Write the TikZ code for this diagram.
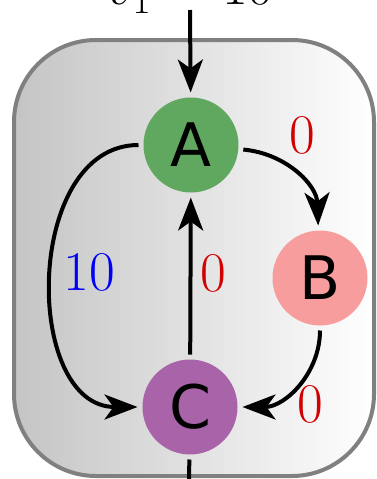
\RequirePackage{fix-cm}
\documentclass[tikz,border=0pt]{standalone}
\usepackage{fontspec}
\newfontfamily\letterfont{DejaVu Sans}
\usetikzlibrary{arrows.meta}
\definecolor{nodeA}{RGB}{96,168,96}
\definecolor{nodeB}{RGB}{248,157,157}
\definecolor{nodeC}{RGB}{169,100,169}
\definecolor{wred}{RGB}{210,0,0}
\definecolor{wblue}{RGB}{0,0,245}
\definecolor{boxedge}{RGB}{128,128,128}
\tikzset{
  vertex/.style={circle, minimum size=95pt, inner sep=0pt, outer sep=5pt,
    font=\letterfont\fontsize{60}{60}\selectfont},
  edgeline/.style={line width=4pt, -{Stealth[length=33pt,width=25pt,inset=9pt]}},
  plainline/.style={line width=4pt},
  weight/.style={font=\fontsize{56}{56}\selectfont, inner sep=0pt},
  frame/.style={draw=boxedge, line width=4pt, rounded corners=82pt,
    left color=black!23, right color=white}
}
\begin{document}
\begin{tikzpicture}[x=1pt,y=-1pt]
\useasboundingbox (0,0) rectangle (376,479);
\clip (0,0) rectangle (376,479);
% enclosing box
\path[frame] (14,40) rectangle (374,476);
% incoming value
\node[font=\fontsize{56}{56}\selectfont, anchor=base east, inner sep=0pt] (val) at (274,5) {$v_1 = 10$};
\coordinate (in) at (190,10);
\coordinate (out) at (189,485);
% vertices
\node[vertex, fill=nodeA] (A) at (191,145) {A};
\node[vertex, fill=nodeB] (B) at (320,278) {B};
\node[vertex, fill=nodeC] (C) at (190,407) {C};
% connectors
\draw[edgeline] (in) -- (A);
\draw[plainline] (C) -- (out);
\draw[edgeline] (A) to[out=-5, in=92] (B);
\draw[edgeline] (A) to[out=180, in=180, looseness=1.12] (C);
\draw[edgeline] (C) -- (A);
\draw[edgeline] (B) to[out=-90, in=0] (C);
% weights
\node[weight, text=wred] (wab) at (302,135) {0};
\node[weight, text=wblue] (wac) at (89,272) {10};
\node[weight, text=wred] (wca) at (213,273) {0};
\node[weight, text=wred] (wbc) at (310,404) {0};
\end{tikzpicture}
\end{document}
